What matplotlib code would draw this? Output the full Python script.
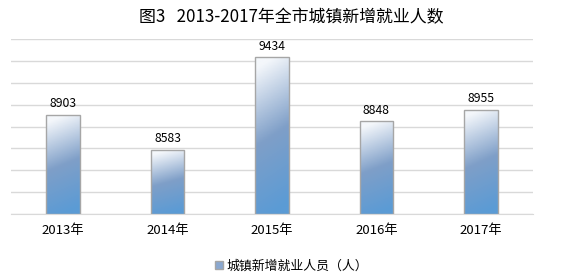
import numpy as np
import matplotlib
matplotlib.use('Agg')
import matplotlib.pyplot as plt
from matplotlib.colors import LinearSegmentedColormap
from matplotlib.patches import Patch

plt.rcParams['font.family'] = ['Noto Sans CJK SC', 'DejaVu Sans']

years = ['2013年', '2014年', '2015年', '2016年', '2017年']
values = [8903, 8583, 9434, 8848, 8955]
series_name = '城镇新增就业人员（人）'
title = '图3   2013-2017年全市城镇新增就业人数'

fig = plt.figure(figsize=(5.66, 2.76), dpi=100)
ax = fig.add_axes([0.0194, 0.2246, 0.9223, 0.633])

x = np.arange(len(years))
width = 0.32
ymin, ymax = 8000, 9600

# gradient: light at top, grey-blue in middle, blue at bottom
cmap = LinearSegmentedColormap.from_list(
    'grad', [(0.0, '#5b9bd5'), (0.5, '#7f9fc8'), (1.0, '#f4f7fb')])
gy, gx = np.mgrid[0:1:100j, 0:1:40j]
grad = gy + 0.14 * (1 - gx) - 0.07

bars = ax.bar(x, [v - ymin for v in values], width, bottom=ymin,
              facecolor='none', edgecolor='#a6a6a6', linewidth=1.0, zorder=3)
for b, v in zip(bars, values):
    x0 = b.get_x()
    im = ax.imshow(grad, cmap=cmap, origin='lower', aspect='auto',
                   extent=[x0, x0 + width, ymin, v], vmin=0, vmax=1, zorder=2)
    im.set_clip_path(b)
    ax.text(b.get_x() + width / 2, v + 45, str(v), ha='center', va='bottom',
            fontsize=8.8, color='#000000')

ax.set_xlim(-0.5, len(years) - 0.5)
ax.set_ylim(ymin, ymax)
ax.set_yticks(np.arange(ymin, ymax + 1, 200))
ax.yaxis.grid(True, color='#d9d9d9', linewidth=1.0, zorder=0)
ax.set_axisbelow(True)
ax.tick_params(axis='y', left=False, labelleft=False)
ax.tick_params(axis='x', length=0, labelsize=9.5, pad=7)
ax.set_xticks(x)
ax.set_xticklabels(years)
for s in ['top', 'right', 'left']:
    ax.spines[s].set_visible(False)
ax.spines['bottom'].set_color('#d9d9d9')

fig.text(0.515, 0.938, title, ha='center', va='center', fontsize=12.2)

fig.legend(handles=[Patch(facecolor='#8aa8d0', edgecolor='#a6a6a6', label=series_name)],
           loc='center', bbox_to_anchor=(0.515, 0.035), frameon=False,
           fontsize=9.3, handlelength=0.6, handleheight=0.6, handletextpad=0.3)

fig.savefig('out.png', dpi=100)
